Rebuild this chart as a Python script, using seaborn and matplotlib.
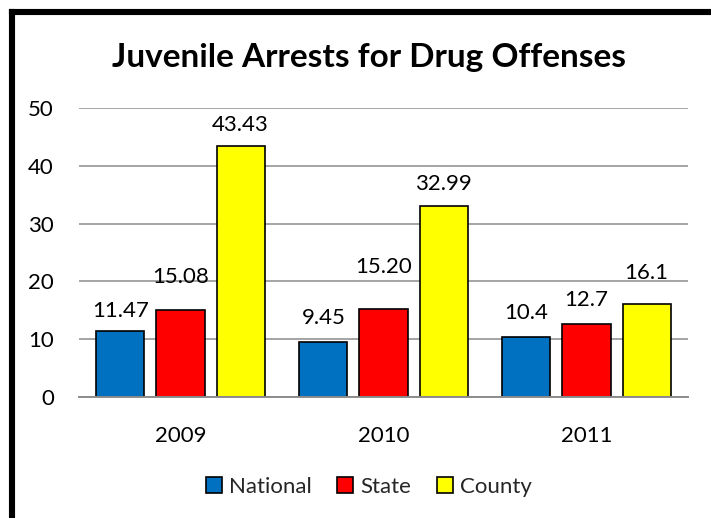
import matplotlib
matplotlib.use("Agg")
import matplotlib.pyplot as plt
import seaborn as sns
import pandas as pd
from matplotlib.lines import Line2D

years = ["2009", "2010", "2011"]
series_names = ["National", "State", "County"]
national = [11.47, 9.45, 10.4]
state = [15.08, 15.20, 12.7]
county = [43.43, 32.99, 16.1]
label_text = [["11.47", "9.45", "10.4"], ["15.08", "15.20", "12.7"], ["43.43", "32.99", "16.1"]]
yticks = [0, 10, 20, 30, 40, 50]
colors = ["#0070C0", "#FF0000", "#FFFF00"]
# label offsets above bar tops (points), per series
label_offsets = [[10, 13, 13], [19, 26, 13], [11, 12, 18]]

df = pd.DataFrame({
    "Year": years * 3,
    "Series": [s for s in series_names for _ in years],
    "Value": national + state + county,
})

sns.set_theme(style="white")
plt.rcParams["font.family"] = ["Lato", "DejaVu Sans"]

FS = 16

fig = plt.figure(figsize=(7.11, 5.18), dpi=100)
ax = fig.add_axes([79/711, 1-397/518, (688-79)/711, (397-108)/518])

sns.barplot(data=df, x="Year", y="Value", hue="Series", order=years,
            hue_order=series_names, palette=colors, width=0.887, gap=0.2,
            edgecolor="black", linewidth=1.2, saturation=1, ax=ax, legend=False,
            errorbar=None)

ax.set_xlim(-0.5, 2.5)
ax.set_ylim(0, 50)
ax.set_yticks(yticks)
ax.set_yticklabels([str(t) for t in yticks])
ax.yaxis.grid(True, color="#8c8c8c", linewidth=1.1)
ax.set_axisbelow(True)
for s in ["top", "right", "left"]:
    ax.spines[s].set_visible(False)
ax.spines["bottom"].set_color("#8c8c8c")
ax.spines["bottom"].set_linewidth(1.4)
ax.tick_params(axis="y", length=0, pad=18, labelsize=FS, colors="black")
ax.tick_params(axis="x", length=0, pad=21, labelsize=FS, colors="black")
ax.set_xlabel("")
ax.set_ylabel("")

for si, cont in enumerate(ax.containers):
    for yi, bar in enumerate(cont):
        x = bar.get_x() + bar.get_width() / 2
        h = bar.get_height()
        ax.annotate(label_text[si][yi], (x, h), xytext=(0, label_offsets[si][yi]),
                    textcoords="offset points", ha="center", va="baseline",
                    fontsize=FS, color="black")

fig.text(369/711, 1-58/518, "Juvenile Arrests for Drug Offenses", ha="center", va="center",
         fontsize=24, fontweight="bold", color="black")

handles = [plt.Rectangle((0, 0), 1, 1, facecolor=c, edgecolor="black", linewidth=1.2) for c in colors]
fig.legend(handles, series_names, loc="center", bbox_to_anchor=(369/711, 1-487/518),
           ncol=3, frameon=False, fontsize=FS, handlelength=0.72, handleheight=0.75,
           handletextpad=0.33, columnspacing=1.15, borderaxespad=0)

# outer frame (top and left edges visible)
fig.add_artist(Line2D([12/711, 1], [1-12/518, 1-12/518], color="black", linewidth=4.4,
                      transform=fig.transFigure, solid_capstyle="projecting"))
fig.add_artist(Line2D([12/711, 12/711], [1-12/518, 0], color="black", linewidth=4.4,
                      transform=fig.transFigure, solid_capstyle="projecting"))

fig.savefig("out.png", dpi=100, facecolor="white")
